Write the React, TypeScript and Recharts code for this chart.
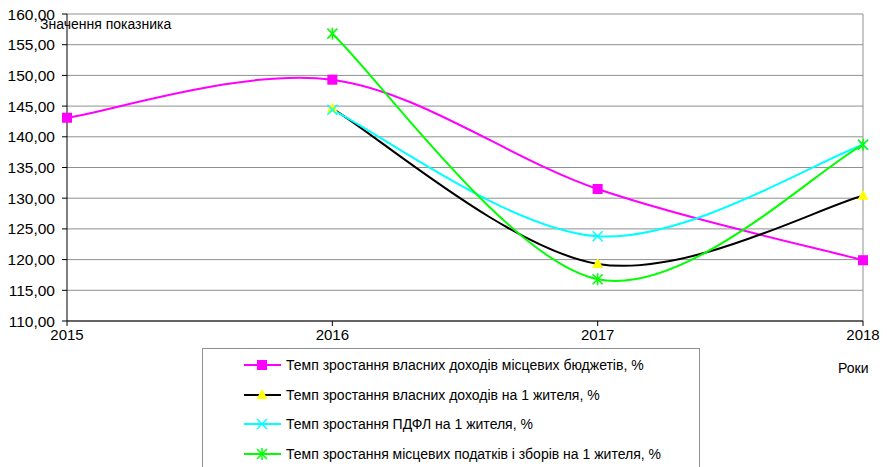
import React from 'react';
import { LineChart, Line, XAxis, YAxis, CartesianGrid, ReferenceLine } from 'recharts';

const YEARS = ['2015', '2016', '2017', '2018'];
const OWN_REVENUE = [143.1, 149.3, 131.5, 119.9];
const OWN_PER_CAPITA = [null, 144.6, 119.3, 130.4];
const PIT_PER_CAPITA = [null, 144.4, 123.8, 138.7];
const LOCAL_TAXES = [null, 156.8, 116.8, 138.7];
const Y_TICKS = [110, 115, 120, 125, 130, 135, 140, 145, 150, 155, 160];

const SERIES = [
  { key: 'own', name: 'Темп зростання власних доходів місцевих бюджетів, %', line: '#ff00ff', marker: 'square', markColor: '#ff00ff' },
  { key: 'perCapita', name: 'Темп зростання власних доходів на 1 жителя, %', line: '#000000', marker: 'triangle', markColor: '#ffff00' },
  { key: 'pit', name: 'Темп зростання ПДФЛ на 1 жителя, %', line: '#00ffff', marker: 'cross', markColor: '#00ffff' },
  { key: 'taxes', name: 'Темп зростання місцевих податків і зборів на 1 жителя, %', line: '#00ff00', marker: 'star', markColor: '#00ff00' },
];

const data = YEARS.map((year, i) => ({
  year,
  own: OWN_REVENUE[i],
  perCapita: OWN_PER_CAPITA[i],
  pit: PIT_PER_CAPITA[i],
  taxes: LOCAL_TAXES[i],
}));

const FONT = 'Arial, "Liberation Sans", sans-serif';

// Excel-style smoothing (Catmull-Rom as bezier segments)
function excelSmooth(context: any) {
  let pts: number[][] = [];
  return {
    areaStart() {},
    areaEnd() {},
    lineStart() {
      pts = [];
    },
    point(x: number, y: number) {
      pts.push([+x, +y]);
    },
    lineEnd() {
      const n = pts.length;
      if (!n) return;
      context.moveTo(pts[0][0], pts[0][1]);
      for (let i = 0; i < n - 1; i++) {
        const p0 = pts[i - 1] || pts[i];
        const p1 = pts[i];
        const p2 = pts[i + 1];
        const p3 = pts[i + 2] || pts[i + 1];
        context.bezierCurveTo(
          p1[0] + (p2[0] - p0[0]) / 6,
          p1[1] + (p2[1] - p0[1]) / 6,
          p2[0] - (p3[0] - p1[0]) / 6,
          p2[1] - (p3[1] - p1[1]) / 6,
          p2[0],
          p2[1]
        );
      }
    },
  };
}

function Marker({ kind, x, y, color }: { kind: string; x: number; y: number; color: string }) {
  if (kind === 'square') return <rect x={x - 5} y={y - 5} width={10} height={10} fill={color} />;
  if (kind === 'triangle')
    return <polygon points={`${x},${y - 6} ${x + 5.5},${y + 4} ${x - 5.5},${y + 4}`} fill={color} />;
  if (kind === 'cross')
    return (
      <g stroke={color} strokeWidth={1.5}>
        <line x1={x - 5} y1={y - 5} x2={x + 5} y2={y + 5} />
        <line x1={x - 5} y1={y + 5} x2={x + 5} y2={y - 5} />
      </g>
    );
  return (
    <g stroke={color} strokeWidth={1.5}>
      <line x1={x - 5} y1={y - 5} x2={x + 5} y2={y + 5} />
      <line x1={x - 5} y1={y + 5} x2={x + 5} y2={y - 5} />
      <line x1={x} y1={y - 6} x2={x} y2={y + 6} />
    </g>
  );
}

function makeDot(kind: string, color: string) {
  return (props: any) => {
    const { cx, cy, index, value } = props;
    if (value == null || cx == null || cy == null) return <g key={`e-${index}`} />;
    return (
      <g key={`d-${index}`}>
        <Marker kind={kind} x={cx} y={cy} color={color} />
      </g>
    );
  };
}

const fmt = (v: number) => v.toFixed(2).replace('.', ',');

export default function App() {
  return (
    <div style={{ position: 'absolute', left: 0, top: 0, width: 887, height: 467, background: '#fff', overflow: 'hidden', fontFamily: FONT }}>
      <LineChart width={887} height={467} data={data} margin={{ top: 14, right: 24, bottom: 116, left: 0 }}>
        <CartesianGrid vertical={false} stroke="#909090" strokeWidth={1} />
        <XAxis
          dataKey="year"
          scale="point"
          height={30}
          padding={{ left: 0, right: 0 }}
          stroke="#000"
          tickSize={5}
          tickMargin={3}
          tick={{ fill: '#000', fontSize: 15, fontFamily: FONT }}
        />
        <YAxis
          domain={[110, 160]}
          ticks={Y_TICKS}
          width={67}
          stroke="#000"
          tickSize={5}
          tickMargin={7}
          tickFormatter={fmt}
          tick={{ fill: '#000', fontSize: 15.5, fontFamily: FONT }}
        />
        <ReferenceLine x="2018" stroke="#909090" />
        {SERIES.map((s) => (
          <Line
            key={s.key}
            dataKey={s.key}
            name={s.name}
            type={excelSmooth as any}
            stroke={s.line}
            strokeWidth={2}
            dot={makeDot(s.marker, s.markColor)}
            activeDot={false}
            isAnimationActive={false}
          />
        ))}
      </LineChart>

      <div style={{ position: 'absolute', left: 40, top: 16, fontSize: 14, color: '#000' }}>Значення показника</div>
      <div style={{ position: 'absolute', left: 838, top: 360, fontSize: 14, color: '#000' }}>Роки</div>

      <div
        style={{
          position: 'absolute',
          left: 202,
          top: 348,
          width: 498,
          height: 130,
          border: '1px solid #909090',
          boxSizing: 'border-box',
        }}
      >
        {SERIES.map((s, i) => (
          <div
            key={s.key}
            style={{ position: 'absolute', left: 40, top: 7 + i * 29.7, height: 18, display: 'flex', alignItems: 'center', fontSize: 14, color: '#000', whiteSpace: 'nowrap' }}
          >
            <svg width={40} height={18} style={{ marginRight: 3 }}>
              <line x1={1} y1={9} x2={38} y2={9} stroke={s.line} strokeWidth={2} />
              <Marker kind={s.marker} x={19} y={9} color={s.markColor} />
            </svg>
            <span>{s.name}</span>
          </div>
        ))}
      </div>
    </div>
  );
}
